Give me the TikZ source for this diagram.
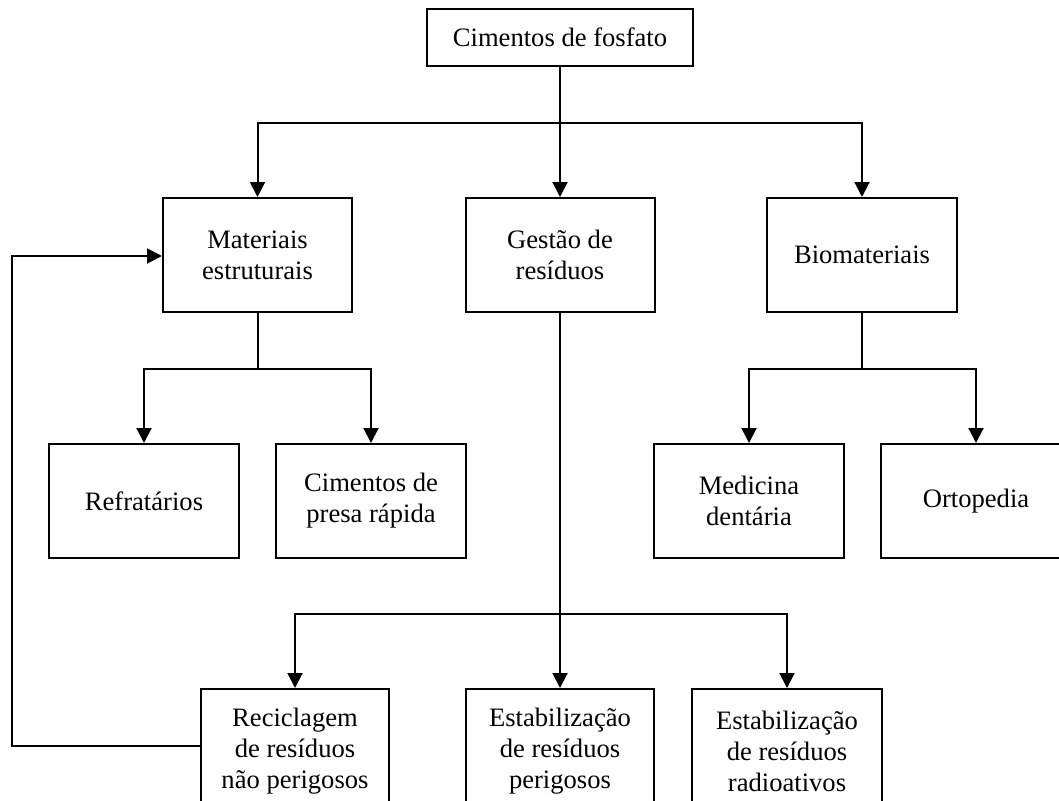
\documentclass[tikz,border=0pt]{standalone}
\usepackage{fontspec}
\setmainfont{Liberation Serif}
\usetikzlibrary{arrows.meta}
\begin{document}
\begin{tikzpicture}[x=1pt,y=-1pt,
  box/.style={draw,line width=2pt,rectangle,inner sep=0pt,minimum width=189pt,minimum height=114pt,align=center,font=\fontsize{26.6}{31}\selectfont},
  conn/.style={line width=2pt},
  arr/.style={conn,-{Triangle[length=15pt,width=15pt]}}]
\fill[white] (0,0) rectangle (1059,800);
\useasboundingbox (0,0) rectangle (1059,800);
\node[box,minimum width=266pt,minimum height=57pt] (top) at (560,37.5) {Cimentos de fosfato};
\node[box] (mat) at (257.5,255) {Materiais\\estruturais};
\node[box] (ges) at (560,255) {Gestão de\\resíduos};
\node[box,minimum width=190pt] (bio) at (862,255) {Biomateriais};
\node[box,minimum width=190pt] (ref) at (144,501) {Refratários};
\node[box,minimum width=190pt] (cim) at (371,501) {Cimentos de\\presa rápida};
\node[box,minimum width=190pt] (med) at (749,501) {Medicina\\dentária};
\node[box,minimum width=190pt] (ort) at (976,501) {Ortopedia};
\node[box,minimum width=188pt,minimum height=124pt] (rec) at (295,751) {Reciclagem\\de resíduos\\não perigosos};
\node[box,minimum width=188pt,minimum height=124pt] (per) at (560,751) {Estabilização\\de resíduos\\perigosos};
\node[box,minimum width=190pt,minimum height=124pt] (rad) at (787,751) {Estabilização\\de resíduos\\radioativos};
\coordinate (j1) at (560,123);
\coordinate (j2) at (257.5,369);
\coordinate (j3) at (862,369);
\coordinate (j4) at (560,614);
\coordinate (fb) at (12,746);
\coordinate (fm) at (12,256);
\draw[arr] (top.south) -- (ges.north);
\draw[arr] (j1) -| (mat.north);
\draw[arr] (j1) -| (bio.north);
\draw[conn] (mat.south) -- (j2);
\draw[arr] (j2) -| (ref.north);
\draw[arr] (j2) -| (cim.north);
\draw[conn] (bio.south) -- (j3);
\draw[arr] (j3) -| (med.north);
\draw[arr] (j3) -| (ort.north);
\draw[arr] (ges.south) -- (per.north);
\draw[arr] (j4) -| (rec.north);
\draw[arr] (j4) -| (rad.north);
\draw[arr] (rec.west |- fb) -- (fb) -- (fm) -- (mat.west |- fm);
\end{tikzpicture}
\end{document}
